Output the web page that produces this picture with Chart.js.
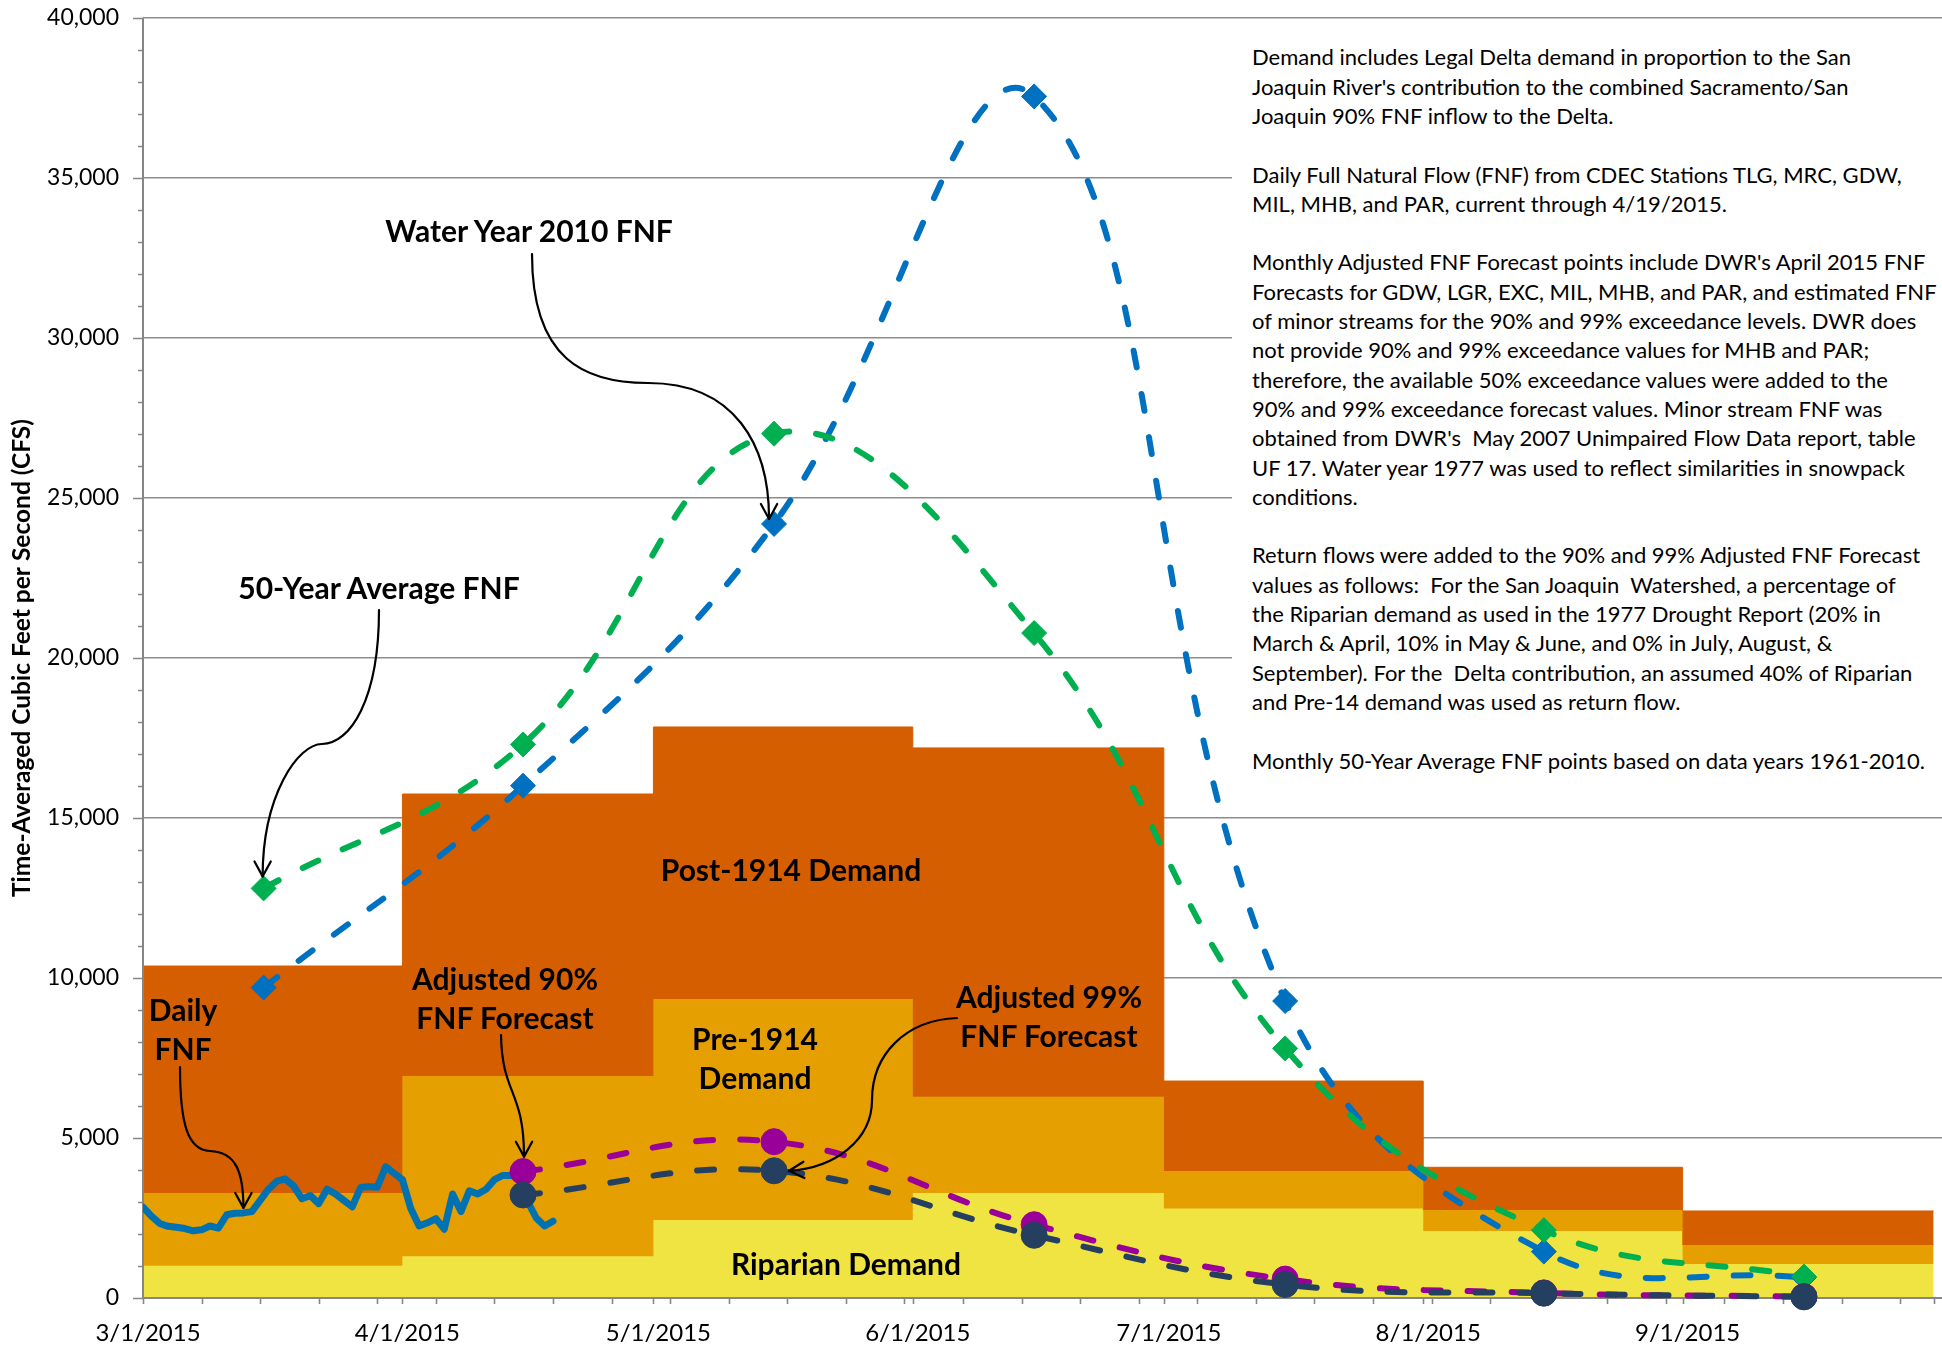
<!DOCTYPE html>
<html><head><meta charset="utf-8">
<script src="https://cdn.jsdelivr.net/npm/chart.js@4.4.1/dist/chart.umd.min.js"></script>
<style>
html,body{margin:0;padding:0;background:#fff;overflow:hidden;}
#wrap{position:relative;width:1942px;height:1348px;}
canvas{position:absolute;left:0;top:0;}
.lbl{position:absolute;font-family:Lato,sans-serif;font-weight:700;font-size:30px;line-height:38.5px;color:#000;text-align:center;white-space:pre;transform:translate(-50%,calc(-50% - 3px));}
#notes{position:absolute;left:1232px;top:30px;width:710px;height:762px;background:#fff;box-sizing:border-box;padding:12.4px 0 0 20px;font-family:Lato,sans-serif;font-size:22px;line-height:29.3px;white-space:pre;color:#000;}
</style></head>
<body><div id="wrap"><canvas id="c" width="1942" height="1348"></canvas>
<div id="notes">Demand includes Legal Delta demand in proportion to the San
Joaquin River's contribution to the combined Sacramento/San
Joaquin 90% FNF inflow to the Delta.

Daily Full Natural Flow (FNF) from CDEC Stations TLG, MRC, GDW,
MIL, MHB, and PAR, current through 4/19/2015.

Monthly Adjusted FNF Forecast points include DWR's April 2015 FNF
Forecasts for GDW, LGR, EXC, MIL, MHB, and PAR, and estimated FNF
of minor streams for the 90% and 99% exceedance levels. DWR does
not provide 90% and 99% exceedance values for MHB and PAR;
therefore, the available 50% exceedance values were added to the
90% and 99% exceedance forecast values. Minor stream FNF was
obtained from DWR's  May 2007 Unimpaired Flow Data report, table
UF 17. Water year 1977 was used to reflect similarities in snowpack
conditions.

Return flows were added to the 90% and 99% Adjusted FNF Forecast
values as follows:  For the San Joaquin  Watershed, a percentage of
the Riparian demand as used in the 1977 Drought Report (20% in
March &amp; April, 10% in May &amp; June, and 0% in July, August, &amp;
September). For the  Delta contribution, an assumed 40% of Riparian
and Pre-14 demand was used as return flow.

Monthly 50-Year Average FNF points based on data years 1961-2010.</div>
<div class="lbl" style="left:529px;top:233px">Water Year 2010 FNF</div>
<div class="lbl" style="left:379px;top:590px">50-Year Average FNF</div>
<div class="lbl" style="left:183px;top:1031px">Daily
FNF</div>
<div class="lbl" style="left:505px;top:1000px">Adjusted 90%
FNF Forecast</div>
<div class="lbl" style="left:1049px;top:1018px">Adjusted 99%
FNF Forecast</div>
<div class="lbl" style="left:791px;top:872px">Post-1914 Demand</div>
<div class="lbl" style="left:755px;top:1060px">Pre-1914
Demand</div>
<div class="lbl" style="left:846px;top:1266px">Riparian Demand</div>
</div>
<script>
// ---------------- DATA ----------------
const monthStartDates = ['2015-03-01','2015-04-01','2015-05-01','2015-06-01','2015-07-01','2015-08-01','2015-09-01','2015-10-01'];
const axisEndDate = '2015-10-02';
const monthLabels = ['3/1/2015','4/1/2015','5/1/2015','6/1/2015','7/1/2015','8/1/2015','9/1/2015'];
const riparianDemand = [1010, 1305, 2440, 3280, 2800, 2095, 1065];
const pre1914Demand  = [2270, 5630, 6905, 3010, 1170, 655, 590];
const post1914Demand = [7095, 8815, 8500, 10900, 2810, 1335, 1065];
const forecastDates = ['2015-03-15T10:00Z','2015-04-15T10:00Z','2015-05-15T10:00Z','2015-06-15T12:00Z','2015-07-15T12:00Z','2015-08-15T10:00Z','2015-09-15T12:00Z'];
const avg50Year = [12800, 17300, 27010, 20780, 7800, 2120, 670];
const waterYear2010 = [9700, 16010, 24190, 37550, 9280, 1450, 640];
const adjustedDates = forecastDates.slice(1);
const adjusted90 = [3950, 4885, 2290, 590, 160, 45];
const adjusted99 = [3220, 3975, 1960, 420, 150, 35];
const dailyStartDate = '2015-03-01';
const dailyFNF = [2840,2560,2330,2240,2210,2170,2100,2130,2250,2180,
                  2600,2650,2660,2700,3050,3400,3650,3720,3500,3100,
                  3200,2950,3400,3250,3050,2850,3450,3480,3460,4100,
                  3900,3700,2800,2250,2350,2480,2150,3250,2700,3350,
                  3250,3400,3700,3830,3830,3750,3000,2500,2250,2400];
const yMax = 40000, yMajor = 5000, yMinor = 1000;

// ---------------- helpers ----------------
const ORIGIN = Date.parse('2015-03-01T00:00Z');
const dayOf = s => (Date.parse(s.length === 10 ? s + 'T00:00Z' : s) - ORIGIN) / 864e5;
const monthDays = monthStartDates.map(dayOf);
const areaEnd = monthDays[monthDays.length - 1];
const xMax = dayOf(axisEndDate);
const stepData = arr => arr.map((v, i) => ({x: monthDays[i], y: v})).concat([{x: areaEnd, y: arr[arr.length - 1]}]);
const cum1 = riparianDemand;
const cum2 = riparianDemand.map((v, i) => v + pre1914Demand[i]);
const cum3 = cum2.map((v, i) => v + post1914Demand[i]);
const pts = (dates, vals) => vals.map((v, i) => ({x: dayOf(dates[i]), y: v}));
const dailyPts = dailyFNF.map((v, i) => ({x: dayOf(dailyStartDate) + i, y: v}));

const C_RIP = '#F0E442', C_PRE = '#E69F00', C_POST = '#D55E00';
const C_GREEN = '#00B050', C_BLUE = '#0070C0', C_PURPLE = '#990099', C_NAVY = '#253F60', C_DAILY = '#0072B2';
const AXIS = '#868686';

function area(label, data, color, fill, order) {
  return {label, data, backgroundColor: color, borderColor: color, borderWidth: 1, fill, stepped: true,
    pointRadius: 0, order, tension: 0};
}
function fcst(label, data, color, style, radius, order) {
  return {label, data, borderColor: color, backgroundColor: color, borderWidth: 6, borderDash: [17, 27],
    borderCapStyle: 'round', tension: 0.4, pointStyle: style, pointRadius: radius, pointHoverRadius: radius,
    pointBackgroundColor: color, pointBorderColor: color, pointBorderWidth: 1, fill: false, clip: false, order};
}

// ---------------- plugins ----------------
const axesPlugin = {
  id: 'axesTicks',
  afterDatasetDraw(chart, args) {
    if (args.index !== 2) return; // after demand areas
    const {ctx, chartArea: ca, scales: {x, y}} = chart;
    ctx.save();
    ctx.strokeStyle = AXIS; ctx.lineWidth = 2;
    ctx.beginPath();
    ctx.moveTo(ca.left, ca.top); ctx.lineTo(ca.left, ca.bottom); ctx.lineTo(ca.right, ca.bottom);
    ctx.stroke();
    ctx.lineWidth = 1.6;
    ctx.beginPath();
    for (let v = 0; v <= yMax; v += yMinor) {
      const py = Math.round(y.getPixelForValue(v)) + 0.5;
      const len = v % yMajor === 0 ? 10 : 5;
      ctx.moveTo(ca.left - len, py); ctx.lineTo(ca.left, py);
    }
    const ticksX = new Set(monthDays);
    for (let d = 0; d <= xMax; d += 7) ticksX.add(d);
    ticksX.forEach(d => {
      const px = Math.round(x.getPixelForValue(d)) + 0.5;
      ctx.moveTo(px, ca.bottom); ctx.lineTo(px, ca.bottom + 6);
    });
    ctx.stroke();
    ctx.restore();
  }
};

function bez(ctx, p0, segs) {
  ctx.beginPath(); ctx.moveTo(p0[0], p0[1]);
  segs.forEach(s => ctx.bezierCurveTo(s[0], s[1], s[2], s[3], s[4], s[5]));
  ctx.stroke();
}
function head(ctx, from, tip) {
  const dx = tip[0] - from[0], dy = tip[1] - from[1], L = Math.hypot(dx, dy) || 1;
  const ux = dx / L, uy = dy / L, len = 17, a = 0.5;
  ctx.beginPath();
  for (const s of [a, -a]) {
    const c = Math.cos(s), sn = Math.sin(s);
    const rx = ux * c - uy * sn, ry = ux * sn + uy * c;
    ctx.moveTo(tip[0] - rx * len, tip[1] - ry * len); ctx.lineTo(tip[0], tip[1]);
  }
  ctx.stroke();
}
const arrowPlugin = {
  id: 'arrows',
  afterDatasetsDraw(chart) {
    const {ctx, scales: {x, y}} = chart;
    const at = (dates, vals, i) => [x.getPixelForValue(dayOf(dates[i])), y.getPixelForValue(vals[i])];
    ctx.save();
    ctx.strokeStyle = '#000'; ctx.lineWidth = 2.2; ctx.lineCap = 'round'; ctx.lineJoin = 'round';
    // Water Year 2010
    let a = at(forecastDates, waterYear2010, 2); let t = [a[0] - 5, a[1] - 5];
    bez(ctx, [532, 254], [[532, 360, 585, 383, 648, 383], [735, 383, t[0], 445, t[0], t[1]]]);
    head(ctx, [t[0], 445], t);
    // 50-Year Average
    a = at(forecastDates, avg50Year, 0); t = [a[0] - 1, a[1] - 12];
    bez(ctx, [379, 610], [[379, 700, 350, 744, 322, 744], [298, 744, t[0], 795, t[0], t[1]]]);
    head(ctx, [t[0], 795], t);
    // Daily FNF
    a = [x.getPixelForValue(dailyPts[12].x), y.getPixelForValue(dailyPts[12].y)]; t = [a[0], a[1] - 5];
    bez(ctx, [180, 1067], [[180, 1125, 188, 1150, 210, 1151], [236, 1152, t[0], 1172, t[0], t[1]]]);
    head(ctx, [t[0], 1172], t);
    // Adjusted 90%
    a = at(adjustedDates, adjusted90, 0); t = [a[0] + 1, a[1] - 15];
    bez(ctx, [501, 1035], [[502, 1095, t[0], 1090, t[0], t[1]]]);
    head(ctx, [t[0], 1090], t);
    // Adjusted 99%
    a = at(adjustedDates, adjusted99, 1); t = [a[0] + 15, a[1]];
    bez(ctx, [957, 1018], [[905, 1020, 872, 1055, 872, 1100], [872, 1140, 835, 1168, t[0], t[1]]]);
    head(ctx, [835, 1168], t);
    ctx.restore();
  }
};

// ---------------- chart ----------------
const datasets = [
  area('Riparian Demand', stepData(cum1), C_RIP, 'origin', 7),
  area('Pre-1914 Demand', stepData(cum2), C_PRE, '-1', 6),
  area('Post-1914 Demand', stepData(cum3), C_POST, '-1', 5),
  {label: 'Daily FNF', data: dailyPts, borderColor: C_DAILY, borderWidth: 7, borderJoinStyle: 'round',
    borderCapStyle: 'round', tension: 0, pointRadius: 0, fill: false, order: 4},
  fcst('Water Year 2010 FNF', pts(forecastDates, waterYear2010), C_BLUE, 'rectRot', 12.5, 3),
  fcst('50-Year Average FNF', pts(forecastDates, avg50Year), C_GREEN, 'rectRot', 12.5, 2),
  fcst('Adjusted 90% FNF Forecast', pts(adjustedDates, adjusted90), C_PURPLE, 'circle', 13, 1),
  fcst('Adjusted 99% FNF Forecast', pts(adjustedDates, adjusted99), C_NAVY, 'circle', 13, 0)
];

function build() {
  Chart.defaults.font.family = 'Lato';
  Chart.defaults.color = '#000';
  new Chart(document.getElementById('c'), {
    type: 'line',
    data: {datasets},
    options: {
      responsive: false, animation: false, devicePixelRatio: 1,
      layout: {autoPadding: false, padding: {top: 18, right: 0, left: 0, bottom: 0}},
      plugins: {legend: {display: false}, tooltip: {enabled: false}},
      scales: {
        x: {
          type: 'linear', min: 0, max: xMax,
          grid: {display: false, drawTicks: false},
          border: {display: false},
          afterBuildTicks: s => { s.ticks = monthDays.slice(0, monthLabels.length).map(v => ({value: v})); },
          afterFit: s => { s.height = 50; s.paddingLeft = 0; s.paddingRight = 0; },
          ticks: {autoSkip: false, maxRotation: 0, padding: 21, labelOffset: 5, font: {size: 24},
            callback: (v, i) => monthLabels[i]}
        },
        y: {
          min: 0, max: yMax,
          grid: {color: '#8C8C8C', lineWidth: 1.5, drawTicks: false},
          border: {display: false},
          afterFit: s => { s.width = 143; s.paddingTop = 0; s.paddingBottom = 0; },
          ticks: {stepSize: yMajor, padding: 24, font: {size: 23},
            callback: v => v.toLocaleString('en-US')},
          title: {display: true, text: 'Time-Averaged Cubic Feet per Second (CFS)',
            font: {size: 24.5, weight: 'bold'}, padding: {top: 7, bottom: 0}}
        }
      }
    },
    plugins: [axesPlugin, arrowPlugin]
  });
}
if (document.fonts && document.fonts.load) {
  Promise.all([document.fonts.load('22px Lato'), document.fonts.load('bold 22px Lato')]).then(build, build);
} else build();
</script>
</body></html>
